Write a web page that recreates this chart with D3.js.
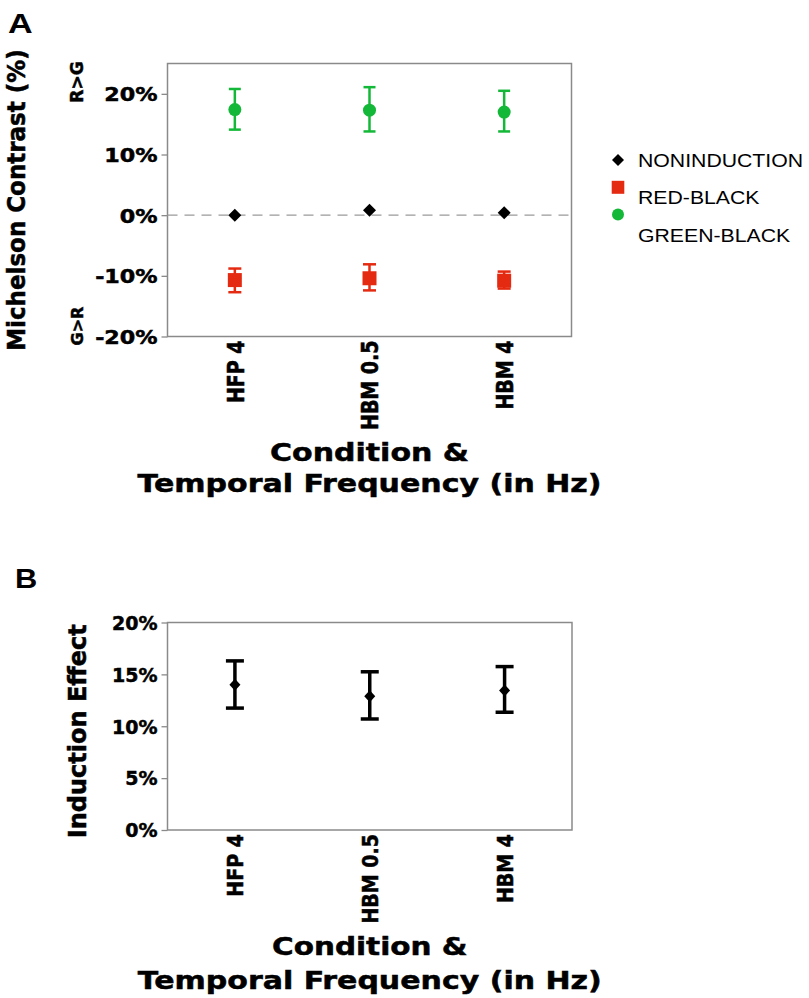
<!DOCTYPE html>
<html>
<head>
<meta charset="utf-8">
<script src="https://cdn.jsdelivr.net/npm/d3@7"></script>
<style>
  body { margin: 0; background: #fff; }
  svg { display: block; }
</style>
</head>
<body>
<div id="chart"></div>
<script>
// Data (values in %)
const conditions = ['HFP 4', 'HBM 0.5', 'HBM 4'];

const nonInduction = [0.0, 0.8, 0.4];
const redBlack = [-10.7, -10.4, -10.8];
const redLow = [-12.7, -12.4, -12.1];
const redHigh = [-8.8, -8.1, -9.3];
const greenBlack = [17.4, 17.3, 17.0];
const greenLow = [14.1, 13.8, 13.8];
const greenHigh = [20.8, 21.1, 20.5];

const inductionEffect = [14.0, 12.9, 13.45];
const inductionLow = [11.75, 10.7, 11.35];
const inductionHigh = [16.3, 15.25, 15.75];

const ticksA = [-20, -10, 0, 10, 20];
const ticksB = [0, 5, 10, 15, 20];
const legendLabels = ['NONINDUCTION', 'RED-BLACK', 'GREEN-BLACK'];

const RED = '#e52a12';
const GREEN = '#14b838';
const GREY = '#8a8a8a';
const FONT = '"DejaVu Sans", Verdana, sans-serif';
const ARIAL = '"Liberation Sans", Arial, sans-serif';

const svg = d3.select('#chart').append('svg')
    .attr('width', 809)
    .attr('height', 998);

// diamond as a rotated square
const diamond = (w, h) => `M0,${-h / 2}L${w / 2},0L0,${h / 2}L${-w / 2},0Z`;

// bold labels in the figure are heavier than DejaVu Bold, so a thin outline
function heavy(sel) {
    return sel.attr('stroke', '#000').attr('stroke-width', 0.5);
}

// horizontally stretched text (the figure's text is wider than the font)
function label(g, txt, x, y, opts) {
    const o = Object.assign({ size: 20, sx: 1, rot: 0, anchor: 'middle', weight: 'bold', family: FONT }, opts);
    const t = g.append('text')
        .attr('transform', `translate(${x},${y}) scale(${o.sx},1)` + (o.rot ? ` rotate(${o.rot})` : ''))
        .attr('text-anchor', o.anchor)
        .attr('font-family', o.family)
        .attr('font-weight', o.weight)
        .attr('font-size', o.size)
        .attr('fill', '#000')
        .text(txt);
    if (o.weight === 'bold' && o.family === FONT) heavy(t);
    return t;
}

function frame(g, yScale, w, h, ticks, stretchY, stretchX) {
    const xs = d3.scalePoint().domain(conditions).range([0, w]).padding(0.5);

    const yAxis = g.append('g').call(d3.axisLeft(yScale).tickValues(ticks).tickFormat(d => d + '%').tickSize(6).tickPadding(0));
    yAxis.select('.domain').remove();
    yAxis.selectAll('.tick line').attr('stroke', GREY).attr('stroke-width', 1.3);
    yAxis.selectAll('.tick text')
        .attr('x', null).attr('dy', '0.36em')
        .attr('transform', `translate(-10,0) scale(${stretchY},1)`)
        .attr('font-family', FONT).attr('font-weight', 'bold').attr('font-size', 19).attr('fill', '#000')
        .call(heavy);

    const xAxis = g.append('g').attr('transform', `translate(0,${h})`)
        .call(d3.axisBottom(xs).tickSize(0));
    xAxis.select('.domain').remove();
    xAxis.selectAll('.tick text')
        .attr('x', 0).attr('y', 0).attr('dy', '0.36em')
        .attr('text-anchor', 'end')
        .attr('transform', `translate(0,4) scale(${stretchX},1) rotate(-90)`)
        .attr('font-family', FONT).attr('font-weight', 'bold').attr('font-size', 19).attr('fill', '#000')
        .call(heavy);

    g.append('rect')
        .attr('width', w).attr('height', h)
        .attr('fill', 'none').attr('stroke', GREY).attr('stroke-width', 1.5);
    return xs;
}

function errorBars(g, xs, y, low, high, color, cap, sw) {
    const bars = g.append('g').attr('stroke', color).attr('stroke-width', sw);
    conditions.forEach((c, i) => {
        const cx = xs(c);
        bars.append('line').attr('x1', cx).attr('x2', cx).attr('y1', y(low[i])).attr('y2', y(high[i]));
        bars.append('line').attr('x1', cx - cap / 2).attr('x2', cx + cap / 2).attr('y1', y(low[i])).attr('y2', y(low[i]));
        bars.append('line').attr('x1', cx - cap / 2).attr('x2', cx + cap / 2).attr('y1', y(high[i])).attr('y2', y(high[i]));
    });
}

// ---------- Panel A ----------
const A = { x: 167.5, y: 63.5, w: 404, h: 273 };
const gA = svg.append('g').attr('transform', `translate(${A.x},${A.y})`);
const yA = d3.scaleLinear().domain([-20, 25]).range([A.h, 0]);
const xA = frame(gA, yA, A.w, A.h, ticksA, 1.17, 1.2);

gA.append('line')
    .attr('x1', 0).attr('x2', A.w).attr('y1', yA(0)).attr('y2', yA(0))
    .attr('stroke', '#9a9a9a').attr('stroke-width', 1.3).attr('stroke-dasharray', '10,7');

errorBars(gA, xA, yA, greenLow, greenHigh, GREEN, 12, 2.5);
errorBars(gA, xA, yA, redLow, redHigh, RED, 13, 2.5);

gA.selectAll('.green').data(greenBlack).join('circle')
    .attr('cx', (d, i) => xA(conditions[i])).attr('cy', d => yA(d))
    .attr('r', 6.5).attr('fill', GREEN);
gA.selectAll('.red').data(redBlack).join('rect')
    .attr('x', (d, i) => xA(conditions[i]) - 7).attr('y', d => yA(d) - 7)
    .attr('width', 14).attr('height', 14).attr('fill', RED);
gA.selectAll('.non').data(nonInduction).join('path')
    .attr('d', diamond(13, 13))
    .attr('transform', (d, i) => `translate(${xA(conditions[i])},${yA(d)})`)
    .attr('fill', '#000');

label(svg, 'A', 8, 33, { size: 28, sx: 1.22, anchor: 'start', family: ARIAL });
label(svg, 'Michelson Contrast (%)', 25, A.y + A.h / 2, { size: 23, rot: -90, sx: 1.07 });
label(svg, 'R>G', 83, 82, { size: 17, rot: -90 });
label(svg, 'G>R', 83, 326, { size: 16, rot: -90 });
label(svg, 'Condition &', A.x + A.w / 2, 461, { size: 25, sx: 1.2 });
label(svg, 'Temporal Frequency (in Hz)', A.x + A.w / 2, 492, { size: 25, sx: 1.2 });

// legend
const leg = svg.append('g');
legendLabels.forEach((t, i) => {
    const ty = 167 + i * 37.3;
    const my = ty - 7 - i * 10;
    if (i === 0) {
        leg.append('path').attr('d', diamond(12, 12)).attr('transform', `translate(618,${my})`).attr('fill', '#000');
    } else if (i === 1) {
        leg.append('rect').attr('x', 611.7).attr('y', my - 6.5).attr('width', 12.6).attr('height', 13).attr('fill', RED);
    } else {
        leg.append('circle').attr('cx', 618).attr('cy', my).attr('r', 6).attr('fill', GREEN);
    }
    label(leg, t, 638, ty, { size: 18, sx: 1.18, anchor: 'start', weight: 'normal', family: ARIAL });
});

// ---------- Panel B ----------
const B = { x: 167.5, y: 622.5, w: 404.5, h: 207.5 };
const gB = svg.append('g').attr('transform', `translate(${B.x},${B.y})`);
const yB = d3.scaleLinear().domain([0, 20]).range([B.h, 0]);
const xB = frame(gB, yB, B.w, B.h, ticksB, 1.0, 1.1);

errorBars(gB, xB, yB, inductionLow, inductionHigh, '#000', 18, 3.5);
gB.selectAll('.eff').data(inductionEffect).join('path')
    .attr('d', diamond(11, 12))
    .attr('transform', (d, i) => `translate(${xB(conditions[i])},${yB(d)})`)
    .attr('fill', '#000');

label(svg, 'B', 15, 588, { size: 28, sx: 1.1, anchor: 'start', family: ARIAL });
label(svg, 'Induction Effect', 86, B.y + B.h / 2 + 5, { size: 24, rot: -90, sx: 1.06 });
label(svg, 'Condition &', B.x + B.w / 2, 955, { size: 25, sx: 1.18 });
label(svg, 'Temporal Frequency (in Hz)', B.x + B.w / 2, 989, { size: 25, sx: 1.2 });
</script>
</body>
</html>
